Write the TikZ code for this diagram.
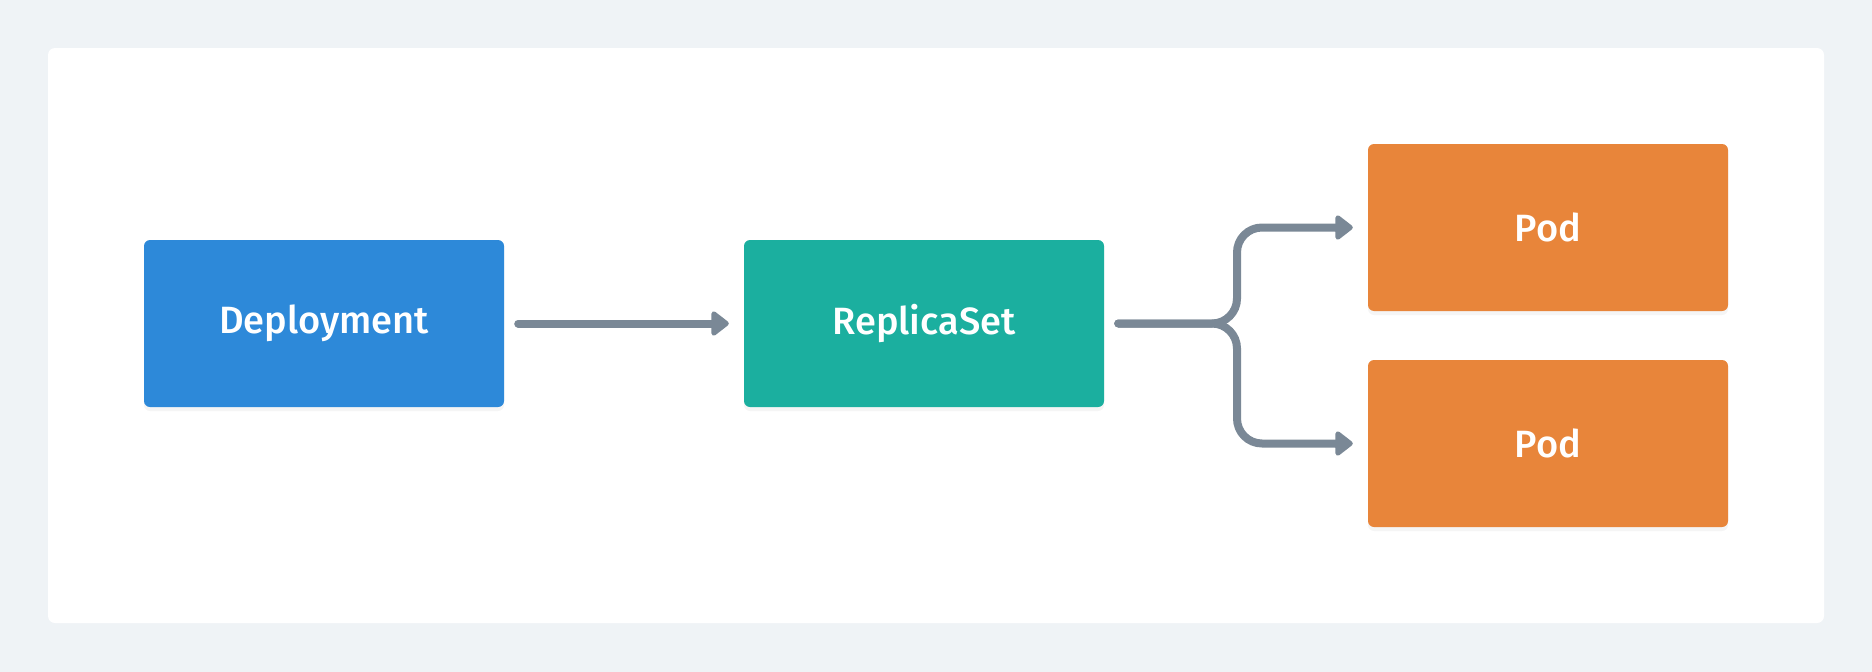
\documentclass[tikz,border=0pt]{standalone}
\usepackage{fontspec}
\setmainfont{Fira Sans}[UprightFont=* Medium]
\usetikzlibrary{arrows.meta,shadows}
\definecolor{bgc}{HTML}{EFF3F6}
\definecolor{depc}{HTML}{2D89D9}
\definecolor{rsc}{HTML}{1BAF9F}
\definecolor{podc}{HTML}{E8853A}
\definecolor{linec}{HTML}{7A8896}
\tikzset{
  box/.style={rectangle, rounded corners=6pt, minimum width=360pt, minimum height=167pt,
    inner sep=0pt, text=white, font=\fontsize{38}{44}\selectfont,
    drop shadow={opacity=0.08, shadow xshift=0pt, shadow yshift=-4pt}},
  conn/.style={draw=linec, line width=8pt, line cap=round,
    -{Triangle[length=19pt,width=28pt,round]}},
  branch/.style={draw=linec, line width=8pt, line cap=round, rounded corners=25pt}
}
\begin{document}
\begin{tikzpicture}[x=1pt,y=-1pt]
\useasboundingbox (0,0) rectangle (1872,672);
\fill[bgc] (0,0) rectangle (1872,672);
\fill[white, rounded corners=7pt] (48,48) rectangle (1824,623);
\node[box, fill=depc] (dep) at (324,323.5) {Deployment};
\node[box, fill=rsc] (rs) at (924,323.5) {ReplicaSet};
\node[box, fill=podc] (pod1) at (1548,227.5) {Pod};
\node[box, fill=podc] (pod2) at (1548,443.5) {Pod};
\draw[conn] ([xshift=14pt]dep.east) -- ([xshift=-15pt]rs.west);
\coordinate (s) at ([xshift=14pt]rs.east);
\coordinate (t1) at ([xshift=-15pt]pod1.west);
\coordinate (t2) at ([xshift=-15pt]pod2.west);
\draw[branch] (s) -- (1237,323.5) -- (1237,227.5) -- ([xshift=-8pt]t1);
\draw[branch] (s) -- (1237,323.5) -- (1237,443.5) -- ([xshift=-8pt]t2);
\draw[conn] ([xshift=-10pt]t1) -- (t1);
\draw[conn] ([xshift=-10pt]t2) -- (t2);
\end{tikzpicture}
\end{document}
